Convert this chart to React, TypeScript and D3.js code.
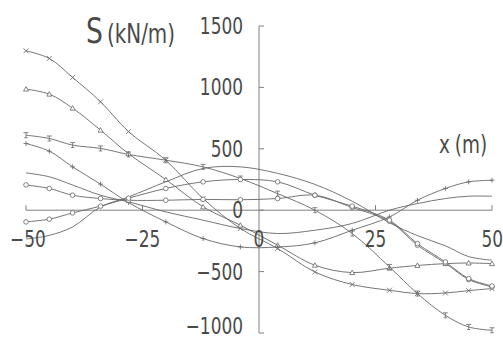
import React from 'react';
import * as d3 from 'd3';

// positions (m) where the values were sampled / markers sit
const X_POS = [-50, -45, -40, -34, -28, -20, -12, -4, 4, 12, 20, 28, 34, 40, 45, 50];

const S_CROSS = [1298, 1236, 1081, 883, 640, 407, 95, -149, -312, -503, -605, -652, -679, -674, -655, -638];
const S_TRIANGLE = [986, 945, 831, 652, 460, 250, 27, -122, -285, -448, -508, -472, -450, -435, -430, -435];
const S_TEE = [611, 584, 530, 503, 454, 407, 353, 258, 135, 0, -190, -462, -679, -856, -951, -978];
const S_PLUS = [543, 481, 353, 212, 62, -95, -231, -299, -300, -266, -163, -55, 81, 177, 231, 244];
const S_PLAIN_A = [304, 272, 205, 122, 68, -14, -81, -149, -190, -163, -108, 0, 54, 95, 114, 114];
const S_CIRCLE_A = [206, 177, 122, 95, 81, 81, 88, 85, 95, 122, 22, -90, -285, -432, -565, -625];
const S_CIRCLE_B = [-95, -73, -22, 33, 98, 177, 231, 250, 231, 122, 33, -81, -272, -421, -557, -617];
const S_PLAIN_B = [-235, -205, -136, 27, 108, 231, 340, 353, 300, 210, 73, -102, -207, -290, -378, -407];

const Y_TICKS = [-1000, -500, 0, 500, 1000, 1500];
const X_TICKS = [-50, -25, 0, 25, 50];

const series = [
  { name: 'cross', values: S_CROSS, marker: 'cross' },
  { name: 'triangle', values: S_TRIANGLE, marker: 'triangle' },
  { name: 'tee', values: S_TEE, marker: 'tee' },
  { name: 'plus', values: S_PLUS, marker: 'plus' },
  { name: 'plainA', values: S_PLAIN_A, marker: 'none' },
  { name: 'circleA', values: S_CIRCLE_A, marker: 'circle' },
  { name: 'circleB', values: S_CIRCLE_B, marker: 'circle' },
  { name: 'plainB', values: S_PLAIN_B, marker: 'none' },
];

const W = 503;
const H = 341;
const INK = '#666';
const TEXT = '#4a4a4a';
const FONT = '"DejaVu Sans Condensed", "DejaVu Sans", sans-serif';
const SQUEEZE = 0.82; // the scanned chart uses a narrow gothic face

const x = d3.scaleLinear().domain([-50, 50]).range([26, 492]);
const y = d3.scaleLinear().domain([-1000, 1500]).range([333, 26]);

const line = d3
  .line<number>()
  .x((_, i) => x(X_POS[i]))
  .y((d) => y(d))
  .curve(d3.curveCatmullRom.alpha(0.5));

const fmt = (t: number) => (t < 0 ? '\u2212' + Math.abs(t) : String(t));

// text drawn squeezed horizontally around its anchor point
const Narrow = ({ x: tx, y: ty, anchor = 'start', size, children }: any) => (
  <g transform={`translate(${tx},${ty}) scale(${SQUEEZE},1)`}>
    <text x={0} y={0} textAnchor={anchor} fontSize={size} fill={TEXT}>
      {children}
    </text>
  </g>
);

const Marker = ({ type, cx, cy }: { type: string; cx: number; cy: number }) => {
  const r = 2.5;
  if (type === 'cross')
    return <path d={`M${cx - r},${cy - r}L${cx + r},${cy + r}M${cx - r},${cy + r}L${cx + r},${cy - r}`} />;
  if (type === 'plus')
    return <path d={`M${cx - r},${cy}L${cx + r},${cy}M${cx},${cy - r}L${cx},${cy + r}`} />;
  if (type === 'triangle')
    return <path d={`M${cx},${cy - r}L${cx + r},${cy + r * 0.8}L${cx - r},${cy + r * 0.8}Z`} fill="#fff" />;
  if (type === 'tee')
    return <path d={`M${cx - r},${cy - r}L${cx + r},${cy - r}M${cx},${cy - r}L${cx},${cy + r}M${cx - r * 0.7},${cy + r}L${cx + r * 0.7},${cy + r}`} />;
  if (type === 'circle') return <circle cx={cx} cy={cy} r={2.3} fill="#fff" />;
  return null;
};

export default function App() {
  return (
    <svg width={W} height={H} style={{ position: 'absolute', left: 0, top: 0, background: '#fff' }} fontFamily={FONT}>
      {/* axes */}
      <g stroke="#808080" strokeWidth={1} fill="none">
        <line x1={x(0)} x2={x(0)} y1={y(1500)} y2={y(-1000)} />
        <line x1={x(-50)} x2={x(50)} y1={y(0)} y2={y(0)} />
        {Y_TICKS.map((t) => (
          <line key={t} x1={x(0)} x2={x(0) + 5} y1={y(t)} y2={y(t)} />
        ))}
        {X_TICKS.filter((t) => t !== 0).map((t) => (
          <line key={t} x1={x(t)} x2={x(t)} y1={y(0)} y2={y(0) - 5} />
        ))}
      </g>

      {/* curves */}
      <g stroke={INK} strokeWidth={0.9} fill="none">
        {series.map((s) => (
          <path key={s.name} d={line(s.values) || ''} />
        ))}
      </g>
      <g stroke={INK} strokeWidth={0.8} fill="none">
        {series.map((s) =>
          s.values.map((v, i) => <Marker key={s.name + i} type={s.marker} cx={x(X_POS[i])} cy={y(v)} />)
        )}
      </g>

      {/* tick labels */}
      {Y_TICKS.map((t) => (
        <Narrow key={t} x={243} y={Math.min(y(t) + 8, 334)} anchor="end" size={23}>
          {fmt(t)}
        </Narrow>
      ))}
      {X_TICKS.map((t) => (
        <Narrow key={t} x={t === 50 ? 503 : t === -50 ? 28 : x(t)} y={247} anchor={t === 50 ? 'end' : 'middle'} size={23}>
          {fmt(t)}
        </Narrow>
      ))}

      {/* axis titles */}
      <Narrow x={86} y={43} size={27}>
        <tspan fontSize={36}>S</tspan>
        <tspan dx={5}>(kN/m)</tspan>
      </Narrow>
      <Narrow x={439} y={153} size={25}>
        x<tspan dx={6}>(m)</tspan>
      </Narrow>
    </svg>
  );
}
